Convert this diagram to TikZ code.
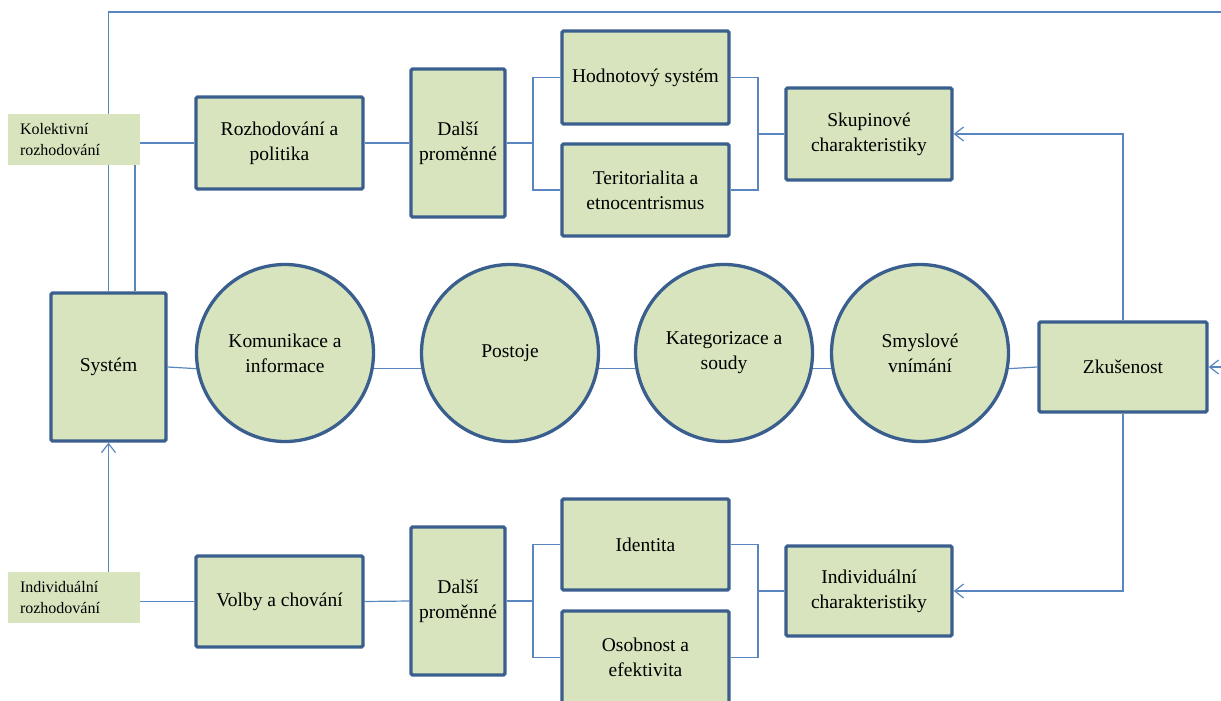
\documentclass[tikz,border=0pt]{standalone}
\usepackage{fontspec}
\setmainfont{Liberation Serif}
\usetikzlibrary{arrows.meta,backgrounds}
\definecolor{boxfill}{HTML}{D7E4BD}
\definecolor{boxline}{HTML}{3A5F8E}
\definecolor{conn}{HTML}{5A86C0}
\tikzset{
  box/.style={draw=boxline, fill=boxfill, line width=3.3pt, rounded corners=1.5pt,
    align=center, inner sep=2pt, font=\fontsize{19.5}{25}\selectfont},
  circ/.style={circle, draw=boxline, fill=boxfill, line width=3.3pt,
    minimum size=177pt, align=center, inner sep=0pt, font=\fontsize{19.5}{25}\selectfont},
  lbl/.style={fill=boxfill, draw=none, align=left, text width=108pt, inner xsep=12pt,
    minimum height=51pt, font=\fontsize{16}{21}\selectfont},
  conline/.style={draw=conn, line width=1.2pt},
  arr/.style={conline, -{Straight Barb[length=9pt,width=14pt,line width=1.2pt]}}
}
\begin{document}
\begin{tikzpicture}[x=1pt,y=-1pt]
\useasboundingbox (0,0) rectangle (1221,701);
\clip (0,0) rectangle (1221,701);
% left labels
\node[lbl] (kol) at (74,139.5) {Kolektivní\\rozhodování};
\node[lbl] (ind) at (74,597.5) {Individuální\\rozhodování};
% top row
\node[box, minimum width=167pt, minimum height=92pt] (rozh) at (279.5,143) {Rozhodování a\\politika};
\node[box, minimum width=94pt, minimum height=148pt] (dalsiA) at (458,143) {Další\\proměnné};
\node[box, minimum width=167pt, minimum height=93pt] (hodn) at (645.5,77.5) {Hodnotový systém};
\node[box, minimum width=167pt, minimum height=92pt] (terit) at (645.5,190) {Teritorialita a\\etnocentrismus};
\node[box, minimum width=166pt, minimum height=92pt] (skup) at (869,134) {Skupinové\\charakteristiky};
% middle row
\node[box, minimum width=115pt, minimum height=148pt] (sys) at (108.5,367) {Systém};
\node[circ] (kom) at (285,353) {Komunikace a\\informace};
\node[circ] (pos) at (510,353) {Postoje};
\node[circ] (kat) at (724,353) {Kategorizace a\\soudy};
\node[circ] (smy) at (920,353) {Smyslové\\vnímání};
\node[box, minimum width=168pt, minimum height=90pt] (zku) at (1123,367) {Zkušenost};
% bottom row
\node[box, minimum width=167pt, minimum height=91pt] (volby) at (279.5,601.5) {Volby a chování};
\node[box, minimum width=94pt, minimum height=148pt] (dalsiB) at (458,601) {Další\\proměnné};
\node[box, minimum width=167pt, minimum height=91pt] (ident) at (645.5,544.5) {Identita};
\node[box, minimum width=167pt, minimum height=93pt] (osob) at (645.5,657.5) {Osobnost a\\efektivita};
\node[box, minimum width=166pt, minimum height=90pt] (indch) at (869,591) {Individuální\\charakteristiky};
% helper coordinates
\coordinate (blA) at (533,143);
\coordinate (brA) at (758,134);
\coordinate (blB) at (533,601);
\coordinate (brB) at (758,591);
\coordinate (tl) at (108.5,12);
\coordinate (tr) at (1245,12);
\coordinate (rr) at (1245,367);
\begin{pgfonlayer}{background}
% frame from Systém round the top back to Zkušenost
\draw[arr] (sys.north) -- (tl) -- (tr) -- (rr) -- (zku.east);
\draw[conline] ([xshift=26.5pt]sys.north) -- ([xshift=26.5pt]sys.north |- kol.south);
\draw[conline] (rozh.west -| kol.east) -- (rozh.west);
\draw[conline] (rozh.east) -- (dalsiA.west);
\draw[conline] (dalsiA.east) -- (blA);
\draw[conline] (hodn.west) -- (hodn.west -| blA) -- (terit.west -| blA) -- (terit.west);
\draw[conline] (hodn.east) -- (hodn.east -| brA) -- (terit.east -| brA) -- (terit.east);
\draw[conline] (brA) -- (skup.west);
\draw[arr] (zku.north) |- (skup.east);
% middle connectors
\draw[conline] (sys.east) -- (kom.190);
\draw[conline] (kom.350) -- (pos.190);
\draw[conline] (pos.350) -- (kat.190);
\draw[conline] (kat.350) -- (smy.190);
\draw[conline] (smy.350) -- (zku.west);
% bottom
\draw[arr] (ind.north -| sys.south) -- (sys.south);
\draw[conline] (volby.west -| ind.east) -- (volby.west);
\draw[conline] (volby.east) -- (dalsiB.west);
\draw[conline] (dalsiB.east) -- (blB);
\draw[conline] (ident.west) -- (ident.west -| blB) -- (osob.west -| blB) -- (osob.west);
\draw[conline] (ident.east) -- (ident.east -| brB) -- (osob.east -| brB) -- (osob.east);
\draw[conline] (brB) -- (indch.west);
\draw[arr] (zku.south) |- (indch.east);
\end{pgfonlayer}
\end{tikzpicture}
\end{document}
